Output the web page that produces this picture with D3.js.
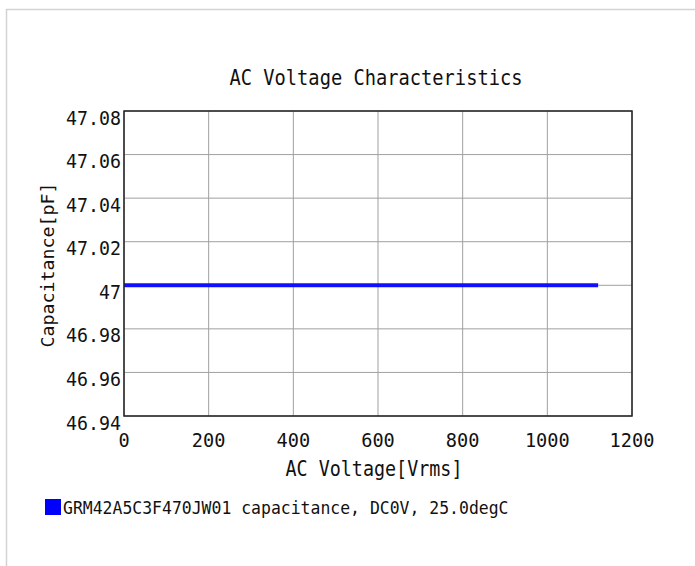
<!DOCTYPE html>
<html>
<head>
<meta charset="utf-8">
<script src="https://cdn.jsdelivr.net/npm/d3@7"></script>
<style>
  body { margin: 0; background: #fff; }
  text { font-family: "DejaVu Sans Mono", "Liberation Mono", monospace; fill: #111; }
</style>
</head>
<body>
<script>
var width = 695,
    height = 566;

// data
var voltages = [0, 100, 200, 300, 400, 500, 600, 700, 800, 900, 1000, 1120];
var capacitance = [47, 47, 47, 47, 47, 47, 47, 47, 47, 47, 47, 47];
var xTicks = [0, 200, 400, 600, 800, 1000, 1200];
var yTicks = [46.94, 46.96, 46.98, 47, 47.02, 47.04, 47.06, 47.08];
var seriesName = "GRM42A5C3F470JW01 capacitance, DC0V, 25.0degC";

var margin = {left: 124, right: 63, top: 111, bottom: 150};

var x = d3.scaleLinear()
    .domain([0, 1200])
    .range([margin.left, width - margin.right]);

var y = d3.scaleLinear()
    .domain([46.94, 47.08])
    .range([height - margin.bottom, margin.top]);

var svg = d3.select("body").append("svg")
    .attr("width", width)
    .attr("height", height);

// outer frame
svg.append("rect")
    .attr("x", 6.5)
    .attr("y", 9.5)
    .attr("width", 720)
    .attr("height", 600)
    .attr("fill", "none")
    .attr("stroke", "#d3d3d3")
    .attr("stroke-width", 1.5);

// grid
svg.append("g")
    .selectAll("line")
    .data(xTicks)
    .enter().append("line")
    .attr("x1", function(d) { return x(d); })
    .attr("x2", function(d) { return x(d); })
    .attr("y1", y.range()[0])
    .attr("y2", y.range()[1])
    .attr("stroke", "#a0a0a0")
    .attr("stroke-width", 1);

svg.append("g")
    .selectAll("line")
    .data(yTicks)
    .enter().append("line")
    .attr("x1", x.range()[0])
    .attr("x2", x.range()[1])
    .attr("y1", function(d) { return y(d); })
    .attr("y2", function(d) { return y(d); })
    .attr("stroke", "#a0a0a0")
    .attr("stroke-width", 1);

// series
var line = d3.line()
    .x(function(d, i) { return x(voltages[i]); })
    .y(function(d) { return y(d); });

svg.append("path")
    .datum(capacitance)
    .attr("d", line)
    .attr("fill", "none")
    .attr("stroke", "#1010ff")
    .attr("stroke-width", 4);

// plot frame
svg.append("rect")
    .attr("x", x.range()[0])
    .attr("y", y.range()[1])
    .attr("width", x.range()[1] - x.range()[0])
    .attr("height", y.range()[0] - y.range()[1])
    .attr("fill", "none")
    .attr("stroke", "#222")
    .attr("stroke-width", 1.5);

function fit(sel, cw) {
    sel.attr("textLength", function() { return this.textContent.length * cw; })
        .attr("lengthAdjust", "spacingAndGlyphs");
}

// tick labels
svg.append("g")
    .selectAll("text")
    .data(yTicks)
    .enter().append("text")
    .attr("x", x.range()[0] - 3)
    .attr("y", function(d) { return y(d) + 13.5; })
    .attr("text-anchor", "end")
    .style("font-size", "19.5px")
    .text(function(d) { return d3.format("")(+d.toFixed(2)); })
    .call(fit, 11);

svg.append("g")
    .selectAll("text")
    .data(xTicks)
    .enter().append("text")
    .attr("x", function(d) { return x(d); })
    .attr("y", 447)
    .attr("text-anchor", "middle")
    .style("font-size", "19.5px")
    .text(function(d) { return d; })
    .call(fit, 11.2);

// title and axis labels
svg.append("text")
    .attr("x", 376)
    .attr("y", 85)
    .attr("text-anchor", "middle")
    .style("font-size", "21px")
    .text("AC Voltage Characteristics")
    .call(fit, 11.27);

svg.append("text")
    .attr("x", 374)
    .attr("y", 476)
    .attr("text-anchor", "middle")
    .style("font-size", "20.5px")
    .text("AC Voltage[Vrms]")
    .call(fit, 11.06);

svg.append("text")
    .attr("transform", "translate(54,265) rotate(-90)")
    .attr("text-anchor", "middle")
    .style("font-size", "18px")
    .text("Capacitance[pF]")
    .call(fit, 11);

// legend
svg.append("rect")
    .attr("x", 45)
    .attr("y", 499)
    .attr("width", 16)
    .attr("height", 16)
    .attr("fill", "#0000ff");

svg.append("text")
    .attr("x", 63)
    .attr("y", 514)
    .style("font-size", "18.5px")
    .text(seriesName)
    .call(fit, 9.9);
</script>
</body>
</html>
